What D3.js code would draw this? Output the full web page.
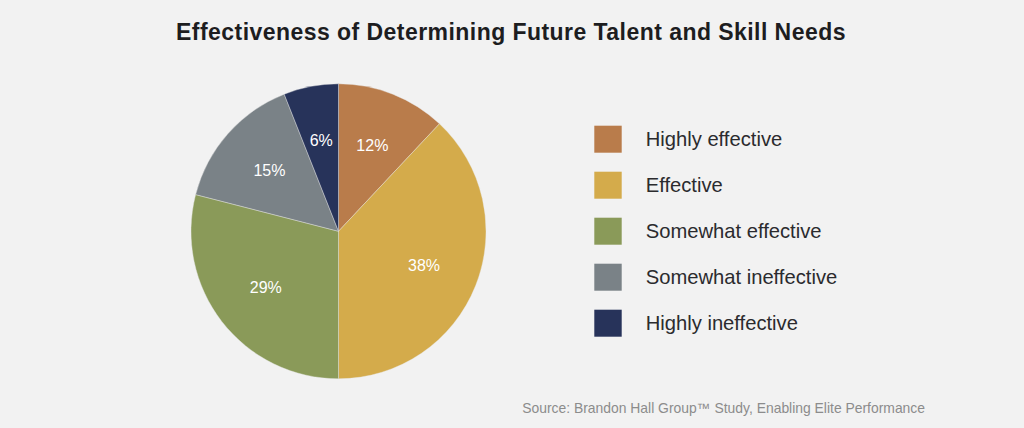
<!DOCTYPE html>
<html>
<head>
<meta charset="utf-8">
<script src="https://cdn.jsdelivr.net/npm/d3@7"></script>
<style>
  html, body { margin: 0; padding: 0; background: #f2f2f2; }
  svg { display: block; }
  text { font-family: "Liberation Sans", Arial, Helvetica, sans-serif; }
</style>
</head>
<body>
<svg id="chart" width="1024" height="428"></svg>
<script>
const title = "Effectiveness of Determining Future Talent and Skill Needs";
const source = "Source: Brandon Hall Group\u2122 Study, Enabling Elite Performance";
const categories = ["Highly effective", "Effective", "Somewhat effective", "Somewhat ineffective", "Highly ineffective"];
const values = [12, 38, 29, 15, 6];
const colors = ["#b97c4b", "#d4ab4b", "#8a9a59", "#7a8287", "#27335a"];

const svg = d3.select("#chart");
const W = 1024, H = 428;

svg.append("rect").attr("width", W).attr("height", H).attr("fill", "#f2f2f2");

svg.append("text")
  .attr("x", 511).attr("y", 39.5)
  .attr("text-anchor", "middle")
  .attr("font-size", 23)
  .attr("font-weight", "bold")
  .attr("letter-spacing", 0.45)
  .attr("fill", "#1d1d1f")
  .text(title);

const data = categories.map((c, i) => ({ name: c, value: values[i], color: colors[i] }));

const cx = 338.5, cy = 231.3, R = 147.5;
const pie = d3.pie().value(d => d.value).sort(null);
const arc = d3.arc().innerRadius(0).outerRadius(R);
const labelArc = d3.arc().innerRadius(92).outerRadius(92);

const g = svg.append("g").attr("transform", `translate(${cx},${cy})`);
const arcs = pie(data);

g.selectAll("path").data(arcs).join("path")
  .attr("d", arc)
  .attr("fill", d => d.data.color)
  .attr("stroke", "#e9e9e9")
  .attr("stroke-width", 0.4);

g.selectAll("text.lbl").data(arcs).join("text")
  .attr("class", "lbl")
  .attr("transform", d => `translate(${labelArc.centroid(d)})`)
  .attr("text-anchor", "middle")
  .attr("dominant-baseline", "central")
  .attr("font-size", 16)
  .attr("fill", "#ffffff")
  .text(d => d.data.value + "%");

const legend = svg.append("g").attr("transform", "translate(594.3,125.7)");
const yL = d3.scaleBand().domain(categories).range([0, 46 * categories.length]).paddingInner(0);

const items = legend.selectAll("g").data(data).join("g")
  .attr("transform", d => `translate(0,${yL(d.name)})`);
items.append("rect")
  .attr("width", 27.4).attr("height", 27)
  .attr("fill", d => d.color);
items.append("text")
  .attr("x", 51.4).attr("y", 20)
  .attr("font-size", 20.2)
  .attr("fill", "#2b2b2e")
  .text(d => d.name);

svg.append("text")
  .attr("x", 925).attr("y", 413.3)
  .attr("text-anchor", "end")
  .attr("font-size", 13.9)
  .attr("fill", "#8c8c8c")
  .text(source);
</script>
</body>
</html>
